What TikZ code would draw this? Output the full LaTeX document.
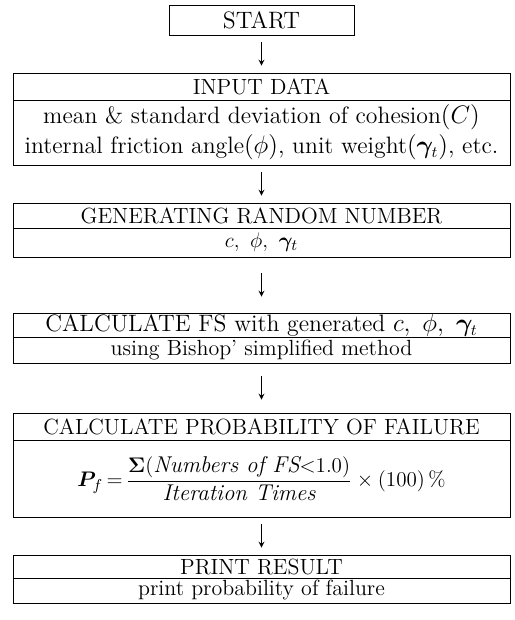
\documentclass[tikz,border=0pt]{standalone}
\usepackage{amsmath}
\usepackage{bm}
\begin{document}
\begin{tikzpicture}[>=stealth, font=\fontsize{12.5}{15}\selectfont, line width=0.5pt]
        \tikzset{box/.style={draw, minimum width=9.94cm, inner sep=0pt, align=center},
                 flow/.style={->, shorten <=#1, shorten >=#1}}
        \useasboundingbox (0,0) rectangle (10.3,-12.4);

        \node[draw, minimum width=3.7cm, minimum height=0.6cm, inner sep=0pt, font=\fontsize{13.5}{16}\selectfont] (start) at (5.23,-0.4) {START};

        \node[box, minimum height=0.54cm] (inhead) at (5.23,-1.73) {INPUT DATA};
        \node[box, minimum height=1.3cm, font=\fontsize{13.5}{16}\selectfont] (inbody) at (5.23,-2.65)
            {mean \& standard deviation of cohesion$(C)$\\[1pt]
             internal friction angle$(\phi)$, unit weight$(\bm{\gamma}_t)$, etc.};

        \node[box, minimum height=0.5cm] (genhead) at (5.23,-4.31) {GENERATING RANDOM NUMBER};
        \node[box, minimum height=0.58cm] (genbody) at (5.23,-4.85) {$c,\ \phi,\ \bm{\gamma}_t$};

        \node[box, minimum height=0.48cm, font=\fontsize{13.5}{16}\selectfont] (fshead) at (5.23,-6.5) {CALCULATE FS with generated $c,\ \phi,\ \bm{\gamma}_t$};
        \node[box, minimum height=0.52cm] (fsbody) at (5.23,-7.0) {using Bishop' simplified method};

        \node[box, minimum height=0.54cm] (pfhead) at (5.23,-8.53) {CALCULATE PROBABILITY OF FAILURE};
        \node[box, minimum height=1.54cm, font=\fontsize{13}{16}\selectfont] (pfbody) at (5.23,-9.57)
            {$\bm{P}_{f}\,{=}\,\dfrac{\mathbf{\Sigma}(\textit{Numbers of FS}{<}1.0)}{\textit{Iteration Times}}\times(100)\,\%$};

        \node[box, minimum height=0.46cm] (prhead) at (5.23,-11.33) {PRINT RESULT};
        \node[box, minimum height=0.5cm] (prbody) at (5.23,-11.81) {print probability of failure};

        \draw[flow=0.14cm] (start) -- (inhead);
        \draw[flow=0.14cm] (inbody) -- (genhead);
        \draw[flow=0.32cm] (genbody) -- (fshead);
        \draw[flow=0.26cm] (fsbody) -- (pfhead);
        \draw[flow=0.14cm] (pfbody) -- (prhead);
    \end{tikzpicture}
\end{document}
